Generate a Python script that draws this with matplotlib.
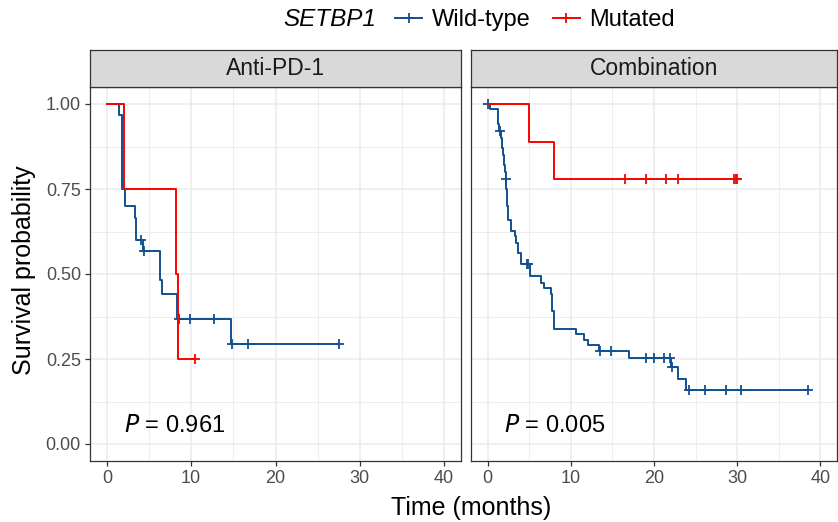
import numpy as np
import matplotlib
matplotlib.use("Agg")
import matplotlib.pyplot as plt
from matplotlib.lines import Line2D

plt.rcParams['font.family'] = ['Liberation Sans', 'DejaVu Sans']

# ---------------- data ----------------
panels = ["Anti-PD-1", "Combination"]
groups = ["Wild-type", "Mutated"]
p_values = ["0.961", "0.005"]

# Anti-PD-1, wild-type
apd_wt_times = [0, 1.4, 1.85, 2.1, 3.33, 3.5, 4.25, 6.3, 6.55, 8.3, 14.7]
apd_wt_surv = [1.0, 0.967, 0.75, 0.70, 0.665, 0.60, 0.567, 0.483, 0.44, 0.367, 0.294]
apd_wt_cens = [4.05, 4.4, 8.6, 9.9, 12.65, 14.8, 16.75, 27.5]

# Anti-PD-1, mutated
apd_mu_times = [0, 1.98, 8.2, 8.4]
apd_mu_surv = [1.0, 0.75, 0.50, 0.25]
apd_mu_cens = [10.4]

# Combination, wild-type
com_wt_times = [0, 0.24, 1.2, 1.3, 1.4, 1.55, 1.7, 1.85, 1.95, 2.05, 2.15, 2.25, 2.3,
                2.35, 2.4, 2.8, 3.3, 3.4, 3.6, 3.96, 5.1, 6.46, 6.75, 7.58, 7.77, 7.98,
                10.6, 11.6, 12.1, 13.4, 17.0, 22.0, 22.9, 23.9]
com_wt_surv = [1.0, 0.984, 0.96, 0.94, 0.922, 0.90, 0.87, 0.85, 0.82, 0.80, 0.78, 0.75, 0.73,
               0.70, 0.66, 0.627, 0.612, 0.59, 0.563, 0.529, 0.495, 0.475, 0.459, 0.441, 0.39, 0.339,
               0.324, 0.307, 0.29, 0.273, 0.254, 0.226, 0.192, 0.16]
com_wt_cens = [0.0, 1.43, 2.2, 4.7, 4.9, 13.45, 14.8, 19.0, 20.0, 21.2, 21.9, 22.2,
               24.25, 26.1, 28.7, 30.4, 38.5]

# Combination, mutated
com_mu_times = [0, 5.0, 7.95]
com_mu_surv = [1.0, 0.889, 0.778]
com_mu_cens = [16.5, 19.0, 21.5, 22.9, 29.6, 29.8, 30.0]

x_ticks = [0, 10, 20, 30, 40]
y_ticks = [0.00, 0.25, 0.50, 0.75, 1.00]
y_tick_labels = ["0.00", "0.25", "0.50", "0.75", "1.00"]

colors = {"Wild-type": "#11508F", "Mutated": "#FF0000"}

curves = {
    ("Anti-PD-1", "Wild-type"): (apd_wt_times, apd_wt_surv, apd_wt_cens),
    ("Anti-PD-1", "Mutated"): (apd_mu_times, apd_mu_surv, apd_mu_cens),
    ("Combination", "Wild-type"): (com_wt_times, com_wt_surv, com_wt_cens),
    ("Combination", "Mutated"): (com_mu_times, com_mu_surv, com_mu_cens),
}

# ---------------- figure ----------------
W, H = 838, 522
fig = plt.figure(figsize=(W / 100, H / 100), dpi=100)

def fx(px):
    return px / W

def fy(py):
    return 1 - py / H

panel_px = [(90, 461), (471, 837)]
top_px, bot_px = 87, 461
strip_top = 50

for (x0, x1), pname, pv in zip(panel_px, panels, p_values):
    ax = fig.add_axes([fx(x0), fy(bot_px), fx(x1 - x0), (bot_px - top_px) / H])
    ax.set_xlim(-2, 42)
    ax.set_ylim(-0.05, 1.05)
    ax.set_xticks(x_ticks)
    ax.set_xticks([5, 15, 25, 35], minor=True)
    ax.set_yticks(y_ticks)
    ax.set_yticks([0.125, 0.375, 0.625, 0.875], minor=True)
    ax.grid(which='major', color='#EBEBEB', lw=1.1)
    ax.grid(which='minor', color='#EBEBEB', lw=0.6)
    ax.set_axisbelow(True)
    for s in ax.spines.values():
        s.set_color('#333333')
        s.set_linewidth(0.9)
    ax.tick_params(which='major', length=3.5, width=0.9, color='#333333',
                   labelsize=13, labelcolor='#4D4D4D', pad=3)
    ax.tick_params(which='minor', length=0)
    if x0 == 90:
        ax.set_yticklabels(y_tick_labels)
    else:
        ax.tick_params(axis='y', which='major', length=0, labelleft=False)

    for g in groups:
        t, s, c = curves[(pname, g)]
        t = np.asarray(t, float)
        s = np.asarray(s, float)
        c = np.asarray(c, float)
        end = max(t.max(), c.max() if len(c) else 0)
        tt = np.append(t, end)
        ss = np.append(s, s[-1])
        z = 3 if g == "Mutated" else 2.5
        ax.step(tt, ss, where='post', color=colors[g], lw=1.4, zorder=z)
        idx = np.searchsorted(t, c, side='right') - 1
        ax.plot(c, s[idx], ls='none', marker='+', ms=6.5, mew=1.3, color=colors[g], zorder=z)

    ax.text(2.0, 0.035, r"$\it{P}$ = " + pv, fontsize=17, ha='left', va='baseline',
            color='black')

    # strip
    sax = fig.add_axes([fx(x0), fy(top_px), fx(x1 - x0), (top_px - strip_top) / H])
    sax.set_facecolor('#D9D9D9')
    sax.set_xticks([])
    sax.set_yticks([])
    for s in sax.spines.values():
        s.set_color('#333333')
        s.set_linewidth(0.9)
    sax.text(0.5, 0.5, pname, ha='center', va='center', fontsize=16.5,
             color='#1A1A1A', transform=sax.transAxes)

fig.text(fx(471), fy(508), "Time (months)", ha='center', va='center', fontsize=18)
fig.text(fx(24), fy(270), "Survival probability", ha='center', va='center',
         rotation=90, fontsize=18)

# legend
fig.text(fx(330), fy(20), "SETBP1", ha='center', va='center', fontsize=17.5,
         style='italic')
handles = [Line2D([], [], color=colors[g], lw=1.4, marker='+', ms=6.5, mew=1.3) for g in groups]
fig.legend(handles, groups, ncol=2, loc='center left', bbox_to_anchor=(fx(395), fy(20)),
           frameon=False, fontsize=17, handlelength=1.15, handletextpad=0.42,
           columnspacing=0.92, borderpad=0, borderaxespad=0)

fig.savefig("out.png", dpi=100)
